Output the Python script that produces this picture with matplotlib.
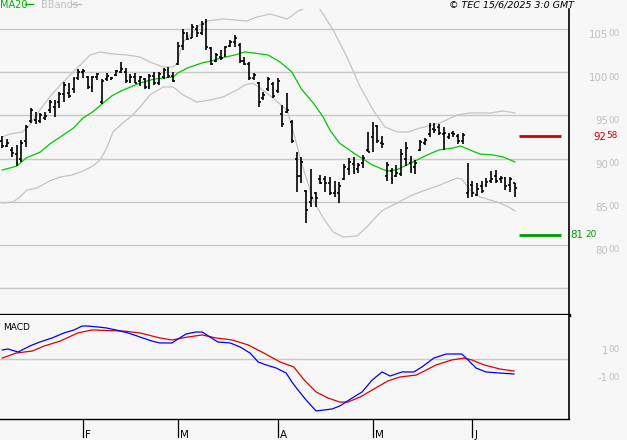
import matplotlib
matplotlib.use("Agg")
import matplotlib.pyplot as plt
from matplotlib.collections import LineCollection
from matplotlib.transforms import Affine2D
from matplotlib.lines import Line2D

W, H, DPI = 627, 440, 100

# ---------------- data ----------------
highs = [9262, 9227, 9134, 9157, 9215, 9389, 9586, 9539, 9528, 9539,
         9678, 9678, 9771, 9887, 9875, 9944, 10037, 10037, 9956, 9956,
         9991, 9921, 9991, 9944, 10025, 10118, 10049, 9979, 9991, 9956,
         9933, 9979, 10002, 10002, 10049, 10060, 10002, 10350, 10500, 10465,
         10558, 10546, 10593, 10616, 10292, 10222, 10257, 10303, 10373, 10431,
         10338, 10176, 10118, 9991, 9887, 9771, 9944, 9887, 9933, 9620,
         9759, 9447, 9076, 9019, 8637, 8880, 8613, 8810, 8799, 8787,
         8741, 8729, 8938, 9007, 9019, 8949, 9042, 9308, 9424, 9389,
         9262, 8961, 8891, 8926, 9111, 9192, 9030, 8984, 9215, 9238,
         9412, 9412, 9400, 9366, 9296, 9319, 9285, 9296, 8949, 8741,
         8718, 8741, 8775, 8856, 8868, 8799, 8787, 8787, 8718]
lows = [9123, 9134, 9019, 8914, 8961, 9134, 9412, 9400, 9412, 9447,
        9528, 9481, 9586, 9655, 9701, 9759, 9910, 9933, 9806, 9771,
        9910, 9632, 9898, 9910, 9956, 9991, 9875, 9875, 9875, 9840,
        9806, 9806, 9852, 9852, 9921, 9933, 9887, 10083, 10257, 10373,
        10396, 10407, 10431, 10257, 10083, 10118, 10141, 10176, 10292, 10292,
        10106, 10083, 9910, 9910, 9597, 9678, 9782, 9701, 9759, 9366,
        9528, 9181, 8613, 8718, 8255, 8440, 8440, 8706, 8613, 8579,
        8556, 8486, 8752, 8810, 8822, 8833, 8891, 9076, 9076, 9181,
        9123, 8741, 8706, 8787, 8799, 8914, 8833, 8822, 9088, 9157,
        9250, 9296, 9273, 9100, 9227, 9250, 9169, 9169, 8544, 8556,
        8567, 8602, 8671, 8718, 8718, 8718, 8637, 8613, 8556]
opens = [9200, 9150, 9100, 9050, 9000, 9200, 9430, 9450, 9430, 9470,
         9560, 9600, 9650, 9750, 9760, 9800, 9930, 10000, 9940, 9830,
         9940, 9650, 9920, 9920, 9970, 10000, 10000, 9900, 9950, 9900,
         9920, 9830, 9960, 9880, 9950, 10030, 9960, 10100, 10300, 10420,
         10400, 10500, 10450, 10580, 10280, 10130, 10180, 10200, 10300, 10350,
         10320, 10130, 10100, 9930, 9870, 9700, 9800, 9860, 9780, 9520,
         9540, 9420, 9000, 8800, 8620, 8500, 8600, 8760, 8760, 8720,
         8600, 8600, 8760, 8880, 8940, 8880, 8950, 9100, 9250, 9380,
         9180, 8800, 8860, 8800, 8820, 9000, 8950, 8900, 9100, 9180,
         9280, 9340, 9360, 9280, 9250, 9300, 9260, 9200, 8600, 8700,
         8580, 8680, 8700, 8740, 8800, 8760, 8780, 8700, 8720]
closes = [9150, 9180, 9070, 8950, 9180, 9370, 9560, 9420, 9500, 9490,
          9650, 9640, 9750, 9850, 9720, 9920, 10000, 10010, 9830, 9940,
          9980, 9900, 9960, 9930, 10010, 10040, 9900, 9950, 9880, 9940,
          9830, 9960, 9870, 9980, 10030, 9960, 9900, 10300, 10450, 10390,
          10520, 10450, 10560, 10290, 10100, 10200, 10160, 10290, 10350, 10400,
          10130, 10100, 9930, 9970, 9650, 9740, 9920, 9720, 9900, 9400,
          9560, 9200, 8800, 8960, 8400, 8540, 8540, 8720, 8720, 8600,
          8620, 8680, 8900, 8960, 8860, 8930, 9010, 9080, 9300, 9200,
          9170, 8930, 8750, 8830, 9050, 9120, 8880, 8950, 9190, 9220,
          9380, 9330, 9300, 9300, 9270, 9280, 9200, 9270, 8620, 8600,
          8650, 8620, 8730, 8760, 8740, 8780, 8680, 8760, 8660]

ma20_idx = [0, 3.1, 5, 8, 10, 12.2, 15, 17, 19, 21, 23, 25, 27, 29, 32, 36, 37, 39,
            42, 44, 46, 49, 51, 53, 56, 58.5, 61, 63, 65.5, 67.6, 69, 71, 74, 76,
            78, 81, 83, 86.5, 89.5, 92, 95, 96.5, 98.5, 100.6, 103.4, 105.5, 108]
ma20_val = [8868, 8914, 9007, 9076, 9169, 9250, 9354, 9470, 9539, 9632, 9724, 9782,
            9829, 9875, 9921, 9944, 9991, 10049, 10106, 10130, 10164, 10199, 10234,
            10222, 10199, 10118, 10002, 9806, 9643, 9481, 9331, 9181, 9065, 8995,
            8926, 8856, 8868, 8961, 9042, 9100, 9123, 9146, 9100, 9053, 9042, 9019,
            8961]

bb_up_idx = [0, 1.6, 4.2, 5.8, 7.9, 10, 12.2, 14.3, 16.4, 18.5, 20.6, 23.3, 26.3, 29,
             31.1, 33.9, 36, 36.8, 38.1, 40.2, 41.6, 43.3, 46.5, 51.5, 53.7, 56.4, 60,
             61.2, 62.3, 63.3, 65, 66.9, 69.7, 72.6, 75.4, 78.1, 80.6, 83.2, 85.5, 88,
             92.2, 95.8, 98.5, 102.7, 105.5, 108]
bb_up_val = [9250, 9285, 9308, 9389, 9562, 9713, 9852, 9968, 10083, 10199, 10234,
             10211, 10199, 10176, 10118, 10060, 10060, 10106, 10350, 10465, 10546,
             10593, 10616, 10593, 10639, 10674, 10616, 10662, 10708, 10731, 10894,
             10731, 10488, 10176, 9829, 9562, 9366, 9308, 9308, 9354, 9412, 9505,
             9528, 9528, 9551, 9528]

bb_lo_idx = [0, 2.3, 3.7, 5.2, 7.3, 10, 12.2, 14.7, 17, 19.1, 20.6, 22.1, 23.3, 25.4,
             27.5, 29, 31.1, 33.9, 36, 38.1, 41, 43.8, 46.5, 49.4, 51.1, 52.8, 54.3, 57,
             60, 61.2, 63.3, 65.5, 67.6, 69.7, 71.8, 74.7, 76.8, 78.5, 80.2, 83.2, 85.9,
             88.6, 92.2, 95.8, 96.8, 98.5, 100.6, 104.2, 106.3, 108]
bb_lo_val = [8486, 8498, 8556, 8637, 8660, 8741, 8787, 8810, 8856, 8914, 8984, 9134,
             9308, 9412, 9505, 9597, 9736, 9829, 9829, 9736, 9655, 9678, 9713, 9794,
             9852, 9875, 9817, 9701, 9562, 9331, 8903, 8521, 8313, 8150, 8093, 8104,
             8208, 8313, 8405, 8486, 8567, 8625, 8694, 8775, 8764, 8637, 8556, 8498,
             8451, 8394]

macd_idx = [0, 1.2, 3.3, 5.8, 7.9, 10.5, 13, 15.1, 16.8, 18, 20.2, 21.9, 23.95, 26.5,
            29, 31.5, 33.2, 35.75, 37, 38.7, 40.8, 42.1, 43.75, 45.4, 48, 50.1, 52.2,
            53.9, 55.6, 57.7, 59.8, 61, 62.3, 64, 66.1, 69.5, 71.1, 73.7, 75.8, 77.9,
            80, 81.7, 84.2, 86.7, 88.4, 90.9, 93.5, 96.8, 98.1, 99.8, 101.9, 104.8, 107.8]
macd_val = [67, 74, 52, 96, 126, 156, 193, 215, 244, 244, 237, 230, 215, 193, 163,
            133, 119, 119, 148, 185, 200, 200, 163, 126, 119, 89, 44, -22, -44, -67,
            -104, -170, -230, -304, -385, -370, -348, -289, -244, -156, -96, -126,
            -96, -96, -59, 7, 37, 37, -7, -67, -96, -104, -111]
signal_idx = [0, 2.9, 6.3, 8.8, 12.2, 15.9, 18.9, 25.6, 29, 33.2, 35.75, 39.1, 42.1,
              45, 48.4, 51.8, 55.1, 58.5, 61.4, 63.6, 66.1, 68.6, 71.1, 72.8, 75.4,
              78.3, 81.2, 83.8, 87.2, 91.4, 94.7, 97.3, 98.9, 101.5, 104.8, 107.8]
signal_val = [7, 44, 59, 96, 133, 193, 215, 207, 193, 156, 141, 163, 178, 156, 141,
              104, 44, -22, -59, -156, -244, -289, -319, -319, -281, -222, -163, -133,
              -119, -44, -7, 7, -7, -44, -74, -89]

month_labels = ["F", "M", "A", "M", "J"]
month_idx = [17, 37, 58, 78, 99]
grid_levels = [7500, 8000, 8500, 9000, 9500, 10000, 10500]
price_labels = [10500, 10000, 9500, 9000, 8500, 8000]
resistance = 9258
support = 8120
macd_labels = [100, -100]

# ---------------- geometry helpers ----------------
X0, DX = 2.3, 4.747          # pixel x of bar 0, pixels per bar
AX_R = 569                   # right edge of plot area (px)
MAIN_TOP, MAIN_BOT = 9, 315
MACD_TOP, MACD_BOT = 315, 419
Y_REF, V_REF, PX_PER_UNIT = 245, 8000, 0.0864
MACD_ZERO_Y, MACD_PX_PER_UNIT = 359, 0.135


def px2idx(x):
    return (x - X0) / DX


def ypx2val(y):
    return V_REF + (Y_REF - y) / PX_PER_UNIT


def val2ypx(v):
    return Y_REF - (v - V_REF) * PX_PER_UNIT


BG = "#f7f7f7"
GRID = "#c8c8c8"
LABEL_GRAY = "#c0c0c0"
BAND = "#c4c4c4"
GREEN = "#00c800"

fig = plt.figure(figsize=(W / DPI, H / DPI), dpi=DPI, facecolor=BG)
pix = Affine2D().scale(1.0 / W, -1.0 / H).translate(0, 1) + fig.transFigure


def ax_rect(top, bot):
    return [0, (H - bot) / H, AX_R / W, (bot - top) / H]


xlim = (px2idx(0), px2idx(AX_R))

# ---------------- main price panel ----------------
ax = fig.add_axes(ax_rect(MAIN_TOP, MAIN_BOT), facecolor=BG)
ax.set_xlim(*xlim)
ax.set_ylim(ypx2val(MAIN_BOT), ypx2val(MAIN_TOP))
for lv in grid_levels:
    ax.axhline(lv, color=GRID, lw=1.0, zorder=1)

ax.plot(bb_up_idx, bb_up_val, color=BAND, lw=0.9, zorder=2)
ax.plot(bb_lo_idx, bb_lo_val, color=BAND, lw=0.9, zorder=2)
ax.plot(ma20_idx, ma20_val, color=GREEN, lw=0.9, zorder=3)

tick = 0.4
segs = []
for i, (o, h, l, c) in enumerate(zip(opens, highs, lows, closes)):
    segs.append([(i, l), (i, h)])
    segs.append([(i - tick, o), (i, o)])
    segs.append([(i, c), (i + tick, c)])
ax.add_collection(LineCollection(segs, colors="black", linewidths=1.2, zorder=4))

ax.plot([px2idx(519), px2idx(561)], [resistance, resistance], color="#d00000", lw=2.0,
        solid_capstyle="butt", zorder=5)
ax.plot([px2idx(519), px2idx(561)], [support, support], color="#009a00", lw=2.0,
        solid_capstyle="butt", zorder=5)

for s in ["left", "top"]:
    ax.spines[s].set_visible(False)
ax.spines["right"].set_color("black")
ax.spines["right"].set_linewidth(1.2)
ax.spines["bottom"].set_color("black")
ax.spines["bottom"].set_linewidth(2.4)
ax.set_xticks([])
ax.set_yticks([])

# ---------------- MACD panel ----------------
ax2 = fig.add_axes(ax_rect(MACD_TOP, MACD_BOT), facecolor=BG)
ax2.set_xlim(*xlim)
ax2.set_ylim((MACD_ZERO_Y - MACD_BOT) / MACD_PX_PER_UNIT,
             (MACD_ZERO_Y - MACD_TOP) / MACD_PX_PER_UNIT)
ax2.axhline(0, color=GRID, lw=1.0, zorder=1)
ax2.plot(signal_idx, signal_val, color="#e00000", lw=0.9, zorder=3)
ax2.plot(macd_idx, macd_val, color="#0000ff", lw=0.9, zorder=4)
for s in ["left", "top"]:
    ax2.spines[s].set_visible(False)
ax2.spines["right"].set_color("black")
ax2.spines["right"].set_linewidth(1.2)
ax2.spines["bottom"].set_color("black")
ax2.spines["bottom"].set_linewidth(1.0)
ax2.set_xticks([])
ax2.set_yticks([])
fig.text(3, 328, "MACD", transform=pix, fontsize=6.5, color="black", ha="left", va="center")

# month ticks
for lab, mi in zip(month_labels, month_idx):
    xp = X0 + mi * DX
    fig.add_artist(Line2D([xp, xp], [MACD_BOT, 437], transform=pix, color="black", lw=0.9))
    fig.text(xp + 2.5, 437.5, lab, transform=pix, fontsize=7.5, ha="left", va="baseline")

# ---------------- split labels ("105" + small "00") ----------------
renderer = fig.canvas.get_renderer()
BIG, SMALL = 7.4, 6.4


def split_label(x, ytop, big, small, color, align="right"):
    if align == "right":
        ts = fig.text(x, ytop, small, transform=pix, fontsize=SMALL, color=color,
                      ha="right", va="top")
        wpx = ts.get_window_extent(renderer).width
        fig.text(x - wpx - 0.8, ytop + 0.8, big, transform=pix, fontsize=BIG,
                 color=color, ha="right", va="top")
    else:
        tb = fig.text(x, ytop + 0.8, big, transform=pix, fontsize=BIG, color=color,
                      ha="left", va="top")
        wpx = tb.get_window_extent(renderer).width
        fig.text(x + wpx + 2.0, ytop, small, transform=pix, fontsize=SMALL,
                 color=color, ha="left", va="top")


for v in price_labels:
    s = str(v)
    split_label(620, val2ypx(v) + 0.3, s[:-2], s[-2:], LABEL_GRAY)

r = str(resistance)
split_label(618, val2ypx(resistance) - 5.0, r[:-2], r[-2:], "#d00000")
sp = str(support)
split_label(570, val2ypx(support) - 5.0, sp[:-2], sp[-2:], "#009a00", align="left")

macd_label_top = {100: 345.5, -100: 372.5}
for v in macd_labels:
    s = str(v)
    split_label(620, macd_label_top[v], s[:-2], s[-2:], LABEL_GRAY)

# ---------------- header texts ----------------
fig.text(0, 5, "MA20", transform=pix, fontsize=7, color="#00b000", ha="left", va="center")
fig.add_artist(Line2D([25, 33], [4.5, 4.5], transform=pix, color="#00b000", lw=1.0))
fig.text(41, 5, "BBands", transform=pix, fontsize=7, color=LABEL_GRAY, ha="left", va="center")
fig.add_artist(Line2D([72, 81], [4.5, 4.5], transform=pix, color=LABEL_GRAY, lw=1.0))
fig.text(574, 5, "\u00a9 TEC 15/6/2025 3:0 GMT", transform=pix, fontsize=6.8,
         style="italic", color="black", ha="right", va="center")

fig.savefig("out.png", dpi=DPI, facecolor=BG)
